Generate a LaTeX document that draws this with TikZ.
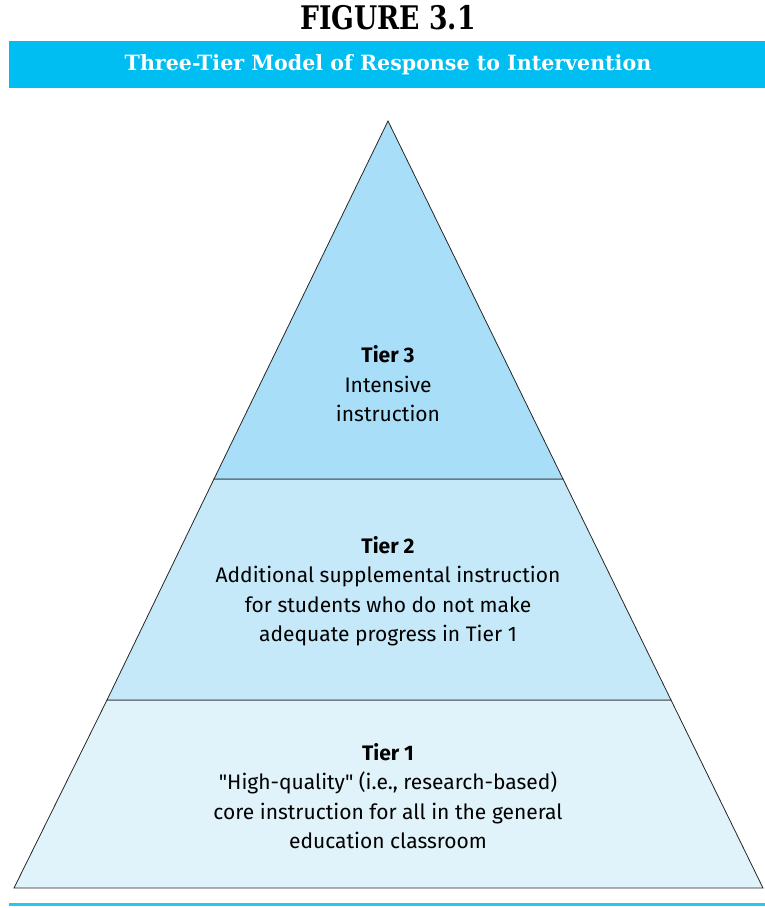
\documentclass[tikz,border=0pt]{standalone}
\usepackage{fontspec}
\setmainfont{Fira Sans}[Ligatures=TeXOff]
\newfontfamily\slabfont[FakeStretch=0.82]{DejaVu Serif}
\newfontfamily\barfont[FakeStretch=0.98]{DejaVu Serif}
\usetikzlibrary{positioning}

\definecolor{barcyan}{HTML}{00BDF2}
\definecolor{tierthree}{HTML}{A9DEF8}
\definecolor{tiertwo}{HTML}{C6E9F9}
\definecolor{tierone}{HTML}{E0F2FA}

\begin{document}
\begin{tikzpicture}[
  x=1pt, y=-1pt,
  tier/.style={draw=black!85, line width=0.8pt},
  tiertext/.style={align=center, inner sep=0pt, font=\fontsize{21}{29.5}\selectfont},
  heading/.style={inner sep=0pt, font=\slabfont\bfseries\fontsize{32.5}{32.5}\selectfont},
  bartext/.style={inner sep=0pt, text=white, font=\barfont\bfseries\fontsize{21}{21}\selectfont}
]
\useasboundingbox (0,0) rectangle (765,908);

% heading and cyan bar
\node[heading] (fig) at (388,18) {FIGURE 3.1};
\fill[barcyan] (9,41) rectangle (765,88);
\node[bartext] (title) at (388,64.5) {Three-Tier Model of Response to Intervention};

% pyramid, bottom tier first
\filldraw[tier, fill=tierone] (107,700) -- (671,700) -- (763,888) -- (14,888) -- cycle;
\filldraw[tier, fill=tiertwo] (214,479) -- (563,479) -- (671,700) -- (107,700) -- cycle;
\filldraw[tier, fill=tierthree] (388,121) -- (563,479) -- (214,479) -- cycle;

\node[tiertext] (t3) at (388,384) {\textbf{Tier 3}\\Intensive\\instruction};
\node[tiertext] (t2) at (388,591) {\textbf{Tier 2}\\Additional supplemental instruction\\for students who do not make\\adequate progress in Tier 1};
\node[tiertext] (t1) at (388,796) {\textbf{Tier 1}\\"High-quality" (i.e., research-based)\\core instruction for all in the general\\education classroom};

% rule under the figure
\fill[barcyan!85] (9,903) rectangle (765,906);
\end{tikzpicture}
\end{document}
